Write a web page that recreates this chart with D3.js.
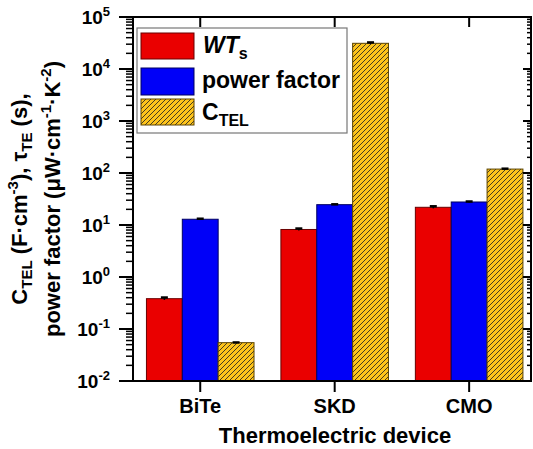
<!DOCTYPE html>
<html>
<head>
  <meta charset="UTF-8" />
  <style>
    body { margin: 0; background: #fff; }
    svg text { font-family: "Liberation Sans", Arial, Helvetica, sans-serif; font-weight: bold; fill: #000; }
  </style>
  <script src="https://d3js.org/d3.v7.min.js"></script>
</head>
<body>
  <div id="chart"></div>
  <script>
    // chart values
    const categories = ["BiTe", "SKD", "CMO"];
    const wtValues = [0.383, 8.2, 21.9];
    const wtErrors = [0.02, 0.35, 1.0];
    const pfValues = [12.9, 24.6, 27.7];
    const pfErrors = [0.3, 0.4, 0.6];
    const ctelValues = [0.0546, 31200, 119];
    const ctelErrors = [0.0005, 1200, 2];
    const yExponents = [-2, -1, 0, 1, 2, 3, 4, 5];
    const seriesNames = ["WT", "power factor", "CTEL"];

    const W = 533, H = 449;
    const mLeft = 133, mRight = 531, mTop = 17, mBottom = 381;

    const svg = d3.select("#chart").append("svg")
      .attr("width", W).attr("height", H);

    const defs = svg.append("defs");
    const pat = defs.append("pattern")
      .attr("id", "hatch")
      .attr("patternUnits", "userSpaceOnUse")
      .attr("width", 5).attr("height", 5);
    pat.append("rect").attr("width", 5).attr("height", 5).attr("fill", "#fdc41c");
    pat.append("path")
      .attr("d", "M-1,1 L1,-1 M0,5 L5,0 M4,6 L6,4")
      .attr("stroke", "#222").attr("stroke-width", 0.85);

    const x = d3.scaleLinear().domain([0.5, 3.46]).range([mLeft, mRight]);
    const y = d3.scaleLog().domain([1e-2, 1e5]).range([mBottom, mTop]);

    const step = x(2) - x(1);
    const barW = step * 0.8 / 3;

    const series = [
      { vals: wtValues, errs: wtErrors, fill: "#ea0000", stroke: "#6a0000" },
      { vals: pfValues, errs: pfErrors, fill: "#0000f8", stroke: "#000060" },
      { vals: ctelValues, errs: ctelErrors, fill: "url(#hatch)", stroke: "#5a4300" }
    ];

    // bars
    series.forEach((s, si) => {
      const g = svg.append("g");
      g.selectAll("rect")
        .data(s.vals)
        .enter()
        .append("rect")
        .attr("x", (d, i) => x(i + 1) - 1.5 * barW + si * barW)
        .attr("y", d => y(d))
        .attr("width", barW)
        .attr("height", d => mBottom - y(d))
        .attr("fill", s.fill)
        .attr("stroke", s.stroke)
        .attr("stroke-width", 1);
    });

    // error bars
    series.forEach((s, si) => {
      s.vals.forEach((v, i) => {
        const cx = x(i + 1) - barW + si * barW;
        const y1 = y(v + s.errs[i]), y0 = y(v - s.errs[i]);
        svg.append("line").attr("x1", cx).attr("x2", cx).attr("y1", y1).attr("y2", y0)
          .attr("stroke", "#000").attr("stroke-width", 1.5);
        svg.append("line").attr("x1", cx - 3.5).attr("x2", cx + 3.5).attr("y1", y1).attr("y2", y1)
          .attr("stroke", "#000").attr("stroke-width", 2.5);
      });
    });

    // minor tick values
    const minors = [];
    for (let e = -2; e < 5; e++) {
      for (let m = 2; m <= 9; m++) minors.push(m * Math.pow(10, e));
    }
    const majors = yExponents.map(e => Math.pow(10, e));

    // left axis ticks (outward)
    svg.append("g").selectAll("line").data(majors).enter().append("line")
      .attr("x1", mLeft - 14).attr("x2", mLeft).attr("y1", d => y(d)).attr("y2", d => y(d))
      .attr("stroke", "#000").attr("stroke-width", 2);
    svg.append("g").selectAll("line").data(minors).enter().append("line")
      .attr("x1", mLeft - 7).attr("x2", mLeft).attr("y1", d => y(d)).attr("y2", d => y(d))
      .attr("stroke", "#000").attr("stroke-width", 1.5);

    // right axis ticks (inward)
    svg.append("g").selectAll("line").data(majors).enter().append("line")
      .attr("x1", mRight - 8).attr("x2", mRight).attr("y1", d => y(d)).attr("y2", d => y(d))
      .attr("stroke", "#000").attr("stroke-width", 2);
    svg.append("g").selectAll("line").data(minors).enter().append("line")
      .attr("x1", mRight - 4).attr("x2", mRight).attr("y1", d => y(d)).attr("y2", d => y(d))
      .attr("stroke", "#000").attr("stroke-width", 1.5);

    // category ticks
    categories.forEach((c, i) => {
      svg.append("line").attr("x1", x(i + 1)).attr("x2", x(i + 1)).attr("y1", mBottom).attr("y2", mBottom + 11)
        .attr("stroke", "#000").attr("stroke-width", 2);
      svg.append("line").attr("x1", x(i + 1)).attr("x2", x(i + 1)).attr("y1", mTop).attr("y2", mTop + 10)
        .attr("stroke", "#000").attr("stroke-width", 2);
      svg.append("text").attr("x", x(i + 1)).attr("y", 413)
        .attr("text-anchor", "middle").attr("font-size", 20).text(c);
    });

    // frame
    svg.append("rect").attr("x", mLeft).attr("y", mTop)
      .attr("width", mRight - mLeft).attr("height", mBottom - mTop)
      .attr("fill", "none").attr("stroke", "#000").attr("stroke-width", 2);

    // y tick labels
    yExponents.forEach(e => {
      const t = svg.append("text").attr("x", 110).attr("y", y(Math.pow(10, e)) + 7)
        .attr("text-anchor", "end").attr("font-size", 19);
      t.append("tspan").text("10");
      t.append("tspan").attr("font-size", 13).attr("dy", -8).text(e);
    });

    // axis titles
    svg.append("text").attr("x", 335).attr("y", 443)
      .attr("text-anchor", "middle").attr("font-size", 22).text("Thermoelectric device");

    const yl = svg.append("g").attr("transform", "translate(0,199) rotate(-90)");
    const l1 = yl.append("text").attr("x", 0).attr("y", 27).attr("text-anchor", "middle").attr("font-size", 22);
    l1.append("tspan").text("C");
    l1.append("tspan").attr("font-size", 15).attr("dy", 5).text("TEL");
    l1.append("tspan").attr("dy", -5).text(" (F·cm");
    l1.append("tspan").attr("font-size", 15).attr("dy", -9).text("-3");
    l1.append("tspan").attr("dy", 9).text("), τ");
    l1.append("tspan").attr("font-size", 15).attr("dy", 5).text("TE");
    l1.append("tspan").attr("dy", -5).text(" (s),");
    const l2 = yl.append("text").attr("x", 0).attr("y", 60).attr("text-anchor", "middle").attr("font-size", 22);
    l2.append("tspan").text("power factor (μW·cm");
    l2.append("tspan").attr("font-size", 15).attr("dy", -9).text("-1");
    l2.append("tspan").attr("dy", 9).text("·K");
    l2.append("tspan").attr("font-size", 15).attr("dy", -9).text("-2");
    l2.append("tspan").attr("dy", 9).text(")");

    // legend
    const lg = svg.append("g");
    lg.append("rect").attr("x", 137).attr("y", 28).attr("width", 210).attr("height", 105)
      .attr("fill", "#fff").attr("stroke", "#777").attr("stroke-width", 1.2);
    const rowY = [33, 68, 99];
    const rowH = [26, 27, 26];
    series.forEach((s, i) => {
      lg.append("rect").attr("x", 141).attr("y", rowY[i]).attr("width", 53).attr("height", rowH[i])
        .attr("fill", s.fill).attr("stroke", s.stroke).attr("stroke-width", 1);
    });
    const t0 = lg.append("text").attr("x", 203).attr("y", 53).attr("font-size", 23);
    t0.append("tspan").attr("font-style", "italic").text("WT");
    t0.append("tspan").attr("font-size", 16).attr("dy", 6).text("s");
    lg.append("text").attr("x", 202).attr("y", 88).attr("font-size", 23).text(seriesNames[1]);
    const t2 = lg.append("text").attr("x", 202).attr("y", 120).attr("font-size", 23);
    t2.append("tspan").text("C");
    t2.append("tspan").attr("font-size", 16).attr("dy", 6).text("TEL");
  </script>
</body>
</html>
